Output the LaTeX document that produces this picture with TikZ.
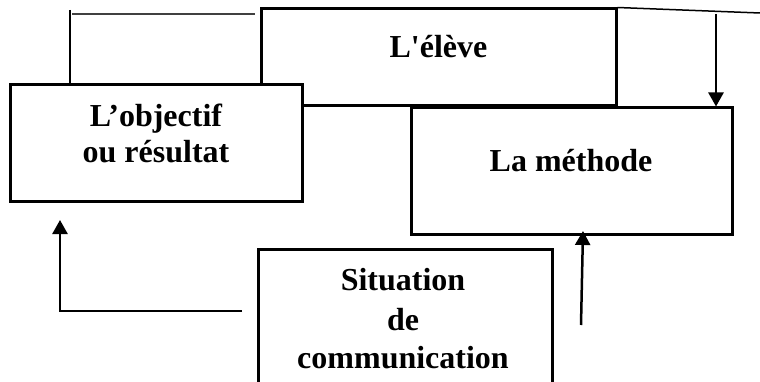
\documentclass[tikz,border=0pt]{standalone}
\usepackage{fontspec}
\setmainfont{Liberation Serif}[Ligatures=TeXOff]
\usetikzlibrary{arrows.meta}
\begin{document}
\begin{tikzpicture}[x=1pt,y=-1pt,
  boxnode/.style={draw, line width=3pt, fill=white, inner sep=0pt, line join=miter},
  lbl/.style={anchor=base, inner sep=0pt, font=\fontsize{32}{39}\selectfont\bfseries},
  conn/.style={line width=2.5pt},
  thin/.style={line width=1.5pt},
  arr/.style={line width=2.5pt, -{Triangle[width=15pt,length=14pt]}}]
\clip (0,0) rectangle (760,382);
\fill[white] (0,0) rectangle (760,382);
% boxes
\node[boxnode, minimum width=355pt, minimum height=97pt] (eleve) at (438.5,57.5) {};
\node[boxnode, minimum width=292pt, minimum height=117pt] (obj) at (156,143.5) {};
\node[boxnode, minimum width=321pt, minimum height=126pt] (meth) at (571.5,171) {};
\node[boxnode, minimum width=294pt, minimum height=146pt] (sit) at (405,322) {};
% texts
\node[lbl] (obj1) at (156,127) {L’objectif};
\node[lbl] (obj2) at (156,163) {ou résultat};
\node[lbl] (el1) at (438.5,58) {L'élève};
\node[lbl] (me1) at (571,172) {La méthode};
\node[lbl] (si1) at (403,290) {Situation};
\node[lbl] (si2) at (403,330) {de};
\node[lbl] (si3) at (403,368) {communication};
% connectors
\coordinate (l1top) at (70,10);
\draw[conn] (l1top) -- (l1top |- obj.north);
\coordinate (l2a) at (72,14);
\coordinate (l2b) at (255,14);
\draw[thin, black!75] (l2a) -- (l2b);
\coordinate (l3e) at (760,13);
\draw[thin] (eleve.north east) -- (l3e);
\coordinate (a1s) at (716,14);
\draw[arr] (a1s) -- (a1s |- meth.north);
\coordinate (a2s) at (242,311);
\coordinate (a2e) at (60,220);
\draw[arr] (a2s) -| (a2e);
\coordinate (a3s) at (581,325);
\coordinate (a3e) at (583,231);
\draw[arr] (a3s) -- (a3e);
\end{tikzpicture}
\end{document}
